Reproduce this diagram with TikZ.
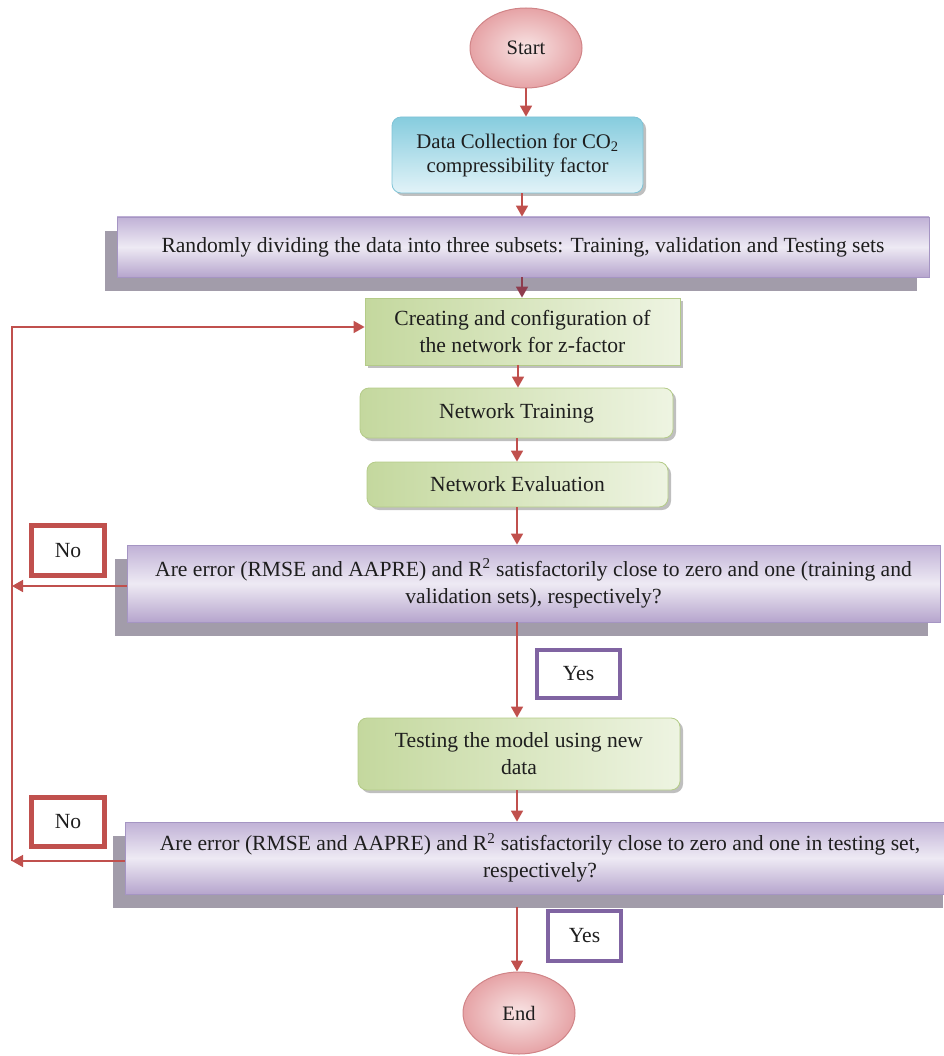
\documentclass[tikz,border=0pt]{standalone}
\usepackage{fontspec}
\setmainfont{Liberation Serif}
\usetikzlibrary{arrows.meta,shapes.geometric,shadows}
\definecolor{arrred}{HTML}{C0504D}
\definecolor{darkarr}{HTML}{8E3C4E}
\definecolor{yespurple}{HTML}{8064A2}
\definecolor{shgray}{HTML}{A29CAA}
\definecolor{ellin}{HTML}{F8E4E4}
\definecolor{ellout}{HTML}{E6A3A6}
\definecolor{elldraw}{HTML}{D08487}
\definecolor{bluetop}{HTML}{86CCDE}
\definecolor{bluebot}{HTML}{E2F3F8}
\definecolor{bluedraw}{HTML}{7FC3D6}
\definecolor{ptop}{HTML}{C0B1D6}
\definecolor{pmid}{HTML}{EEEAF4}
\definecolor{pbot}{HTML}{B6A5CD}
\definecolor{pdraw}{HTML}{A595C3}
\definecolor{gleft}{HTML}{C4D89E}
\definecolor{gright}{HTML}{EEF4E2}
\definecolor{gdraw}{HTML}{B4CB88}
\definecolor{txt}{HTML}{1E1E1E}
\begin{document}
\begin{tikzpicture}[x=1pt,y=-1pt,
  font=\fontsize{21.6}{27}\selectfont, text=txt,
  ellnode/.style={ellipse, draw=elldraw, line width=1pt, inner color=ellin, outer color=ellout, minimum width=112pt, minimum height=80pt, inner sep=0pt, font=\fontsize{20.5}{25}\selectfont},
  bluebox/.style={rectangle, rounded corners=9pt, draw=bluedraw, line width=0.8pt, top color=bluetop, bottom color=bluebot, align=center, font=\fontsize{20.8}{24}\selectfont,
    drop shadow={shadow xshift=3pt, shadow yshift=-3pt, fill=gray, opacity=0.5}},
  purplebox/.style={rectangle, draw=pdraw, line width=0.8pt, top color=ptop, bottom color=pbot, middle color=pmid, align=center,
    drop shadow={shadow xshift=-12pt, shadow yshift=-14pt, fill=shgray, opacity=1}},
  greenbox/.style={rectangle, draw=gdraw, line width=0.8pt, left color=gleft, right color=gright, align=center,
    drop shadow={shadow xshift=3pt, shadow yshift=-3pt, fill=gray, opacity=0.5}},
  roundgreen/.style={greenbox, rounded corners=9pt},
  nobox/.style={rectangle, draw=arrred, line width=4.5pt, fill=white, minimum width=73pt, minimum height=50pt, inner sep=0pt},
  yesbox/.style={rectangle, draw=yespurple, line width=4.5pt, fill=white, inner sep=0pt},
  arr/.style={draw=arrred, line width=1.6pt, -{Triangle[length=11pt,width=12pt]}},
  ]
\useasboundingbox (0,0) rectangle (943,1056);

% nodes
\node[ellnode] (start) at (526,48) {Start};
\node[bluebox, minimum width=251pt, minimum height=76pt] (data) at (517.5,155) {Data Collection for CO\textsubscript{2}\\compressibility factor};
\node[purplebox, minimum width=812pt, minimum height=60pt] (rand) at (523,247) {Randomly dividing the data into three subsets: Training, validation and Testing sets};
\node[greenbox, minimum width=315pt, minimum height=67pt] (create) at (522.5,331.5) {Creating and configuration of\\the network for z-factor};
\node[roundgreen, minimum width=313pt, minimum height=50pt] (train) at (516.5,413) {Network Training};
\node[roundgreen, minimum width=301pt, minimum height=45pt] (eval) at (517.5,484.5) {Network Evaluation};
\node[purplebox, minimum width=813pt, minimum height=77pt] (dec1) at (533.5,583.5) {Are error (RMSE and AAPRE) and R\textsuperscript{2} satisfactorily close to zero and one (training and\\validation sets), respectively?};
\node[yesbox, minimum width=83pt, minimum height=48pt] (yes1) at (578.5,674) {Yes};
\node[roundgreen, minimum width=322pt, minimum height=72pt] (test) at (519,754) {Testing the model using new\\data};
\node[purplebox, minimum width=830pt, minimum height=72pt] (dec2) at (540,858) {Are error (RMSE and AAPRE) and R\textsuperscript{2} satisfactorily close to zero and one in testing set,\\respectively?};
\node[yesbox, minimum width=73pt, minimum height=50pt] (yes2) at (584.5,936) {Yes};
\node[ellnode, minimum height=82pt] (end) at (519,1013) {End};
\node[nobox] (no1) at (68,550.5) {No};
\node[nobox, minimum height=49pt] (no2) at (68,822) {No};

% connectors
\draw[arr] (start.south) -- (start.south |- data.north);
\draw[arr] (data.south -| 522,0) -- (rand.north -| 522,0);
\draw[arr, draw=darkarr] (rand.south -| 522,0) -- (create.north -| 522,0);
\draw[arr] (create.south -| 518,0) -- (train.north -| 518,0);
\draw[arr] (train.south -| 517,0) -- (eval.north -| 517,0);
\draw[arr] (eval.south -| 517,0) -- (dec1.north -| 517,0);
\draw[arr] (dec1.south -| 517,0) -- (test.north -| 517,0);
\draw[arr] (test.south -| 517,0) -- (dec2.north -| 517,0);
\draw[arr] (dec2.south -| 517,0) ++(0,13) -- (end.north -| 517,0);

\coordinate (loopa) at (12,586);
\coordinate (loopb) at (12,861);
\draw[arr] (dec1.west |- loopa) -- (loopa);
\draw[arr] (dec2.west |- loopb) -- (loopb);
\draw[arr] (loopb) -- (12,327) -- (create.west |- 0,327);
\end{tikzpicture}
\end{document}
